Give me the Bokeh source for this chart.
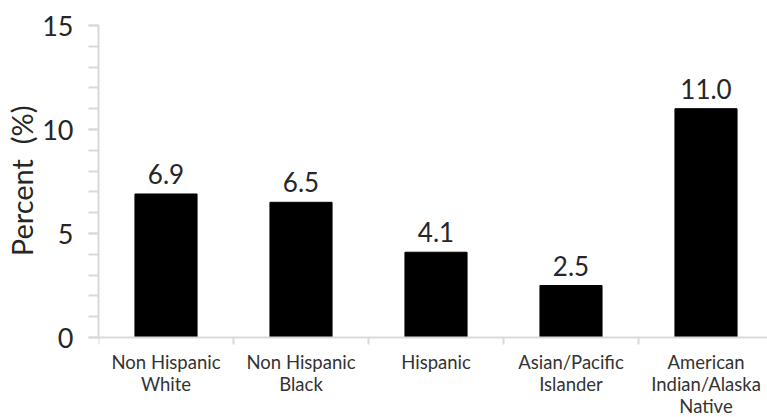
from bokeh.plotting import figure
from bokeh.models import Range1d, FixedTicker, Title
from bokeh.core.properties import value
from bokeh.embed import file_html
from bokeh.resources import INLINE

# Data
categories = ["Non Hispanic\nWhite", "Non Hispanic\nBlack", "Hispanic",
              "Asian/Pacific\nIslander", "American\nIndian/Alaska\nNative"]
percents = [6.9, 6.5, 4.1, 2.5, 11.0]
y_ticks = [0, 5, 10, 15]

FONT = "Lato"
AXIS_GRAY = "#d9d9d9"
TEXT_DARK = "#262626"

xs = list(range(len(categories)))
labels = [f"{v:.1f}" for v in percents]

# The frame runs to the bottom edge so the category names can sit below zero
px_per_unit = 312 / 15
p = figure(
    width=767, height=417,
    x_range=Range1d(-0.5, len(categories) - 0.5 - 6 / 135),
    y_range=Range1d(-80 / px_per_unit, 15),
    output_backend="svg", toolbar_location=None,
    min_border_left=98, min_border_right=0,
    min_border_top=25, min_border_bottom=0,
)
p.outline_line_color = None
p.xgrid.grid_line_color = None
p.ygrid.grid_line_color = None
p.background_fill_color = "white"
p.border_fill_color = "white"

# Bars
p.vbar(x=xs, top=percents, width=0.46, fill_color="black", line_color="black")

# Value labels above bars
p.text(x=xs, y=percents, text=labels, text_align="center", text_baseline="bottom",
       y_offset=-10, text_font=value(FONT), text_font_size="26px", text_color=TEXT_DARK)

# Category names under the zero line
p.text(x=xs, y=[0] * len(xs), text=categories, text_align="center", text_baseline="top",
       y_offset=13, text_font=value(FONT), text_font_size="18.5px",
       text_color="#333333", text_line_height=1.0)

# Y axis (drawn only from 0 to 15)
ya = p.yaxis[0]
ya.bounds = (0, 15)
ya.ticker = FixedTicker(ticks=y_ticks, minor_ticks=list(range(0, 16)))
ya.axis_line_color = AXIS_GRAY
ya.axis_line_width = 2
ya.major_tick_line_color = AXIS_GRAY
ya.minor_tick_line_color = AXIS_GRAY
ya.major_tick_line_width = 2
ya.minor_tick_line_width = 2
ya.major_tick_in = 0
ya.major_tick_out = 10
ya.minor_tick_in = 0
ya.minor_tick_out = 10
ya.major_label_standoff = 15
ya.major_label_text_font = FONT
ya.major_label_text_font_size = "27px"
ya.major_label_text_color = TEXT_DARK

# Y axis title, centred on the 0-15 span of the axis
p.add_layout(Title(text="Percent \u00a0(%)", align="right", offset=80,
                   text_font=FONT, text_font_size="29px", text_font_style="normal",
                   text_color=TEXT_DARK, standoff=2), "left")

# X axis pinned at zero, tick marks at category boundaries only
xa = p.xaxis[0]
xa.fixed_location = 0
xa.ticker = FixedTicker(ticks=[], minor_ticks=[i - 0.5 for i in range(len(categories) + 1)])
xa.axis_line_color = AXIS_GRAY
xa.axis_line_width = 2
xa.major_tick_line_color = None
xa.major_label_text_font_size = "0px"
xa.major_label_standoff = 0
xa.minor_tick_line_color = AXIS_GRAY
xa.minor_tick_line_width = 2
xa.minor_tick_in = 0
xa.minor_tick_out = 7

open("out.html", "w").write(file_html(p, INLINE))
